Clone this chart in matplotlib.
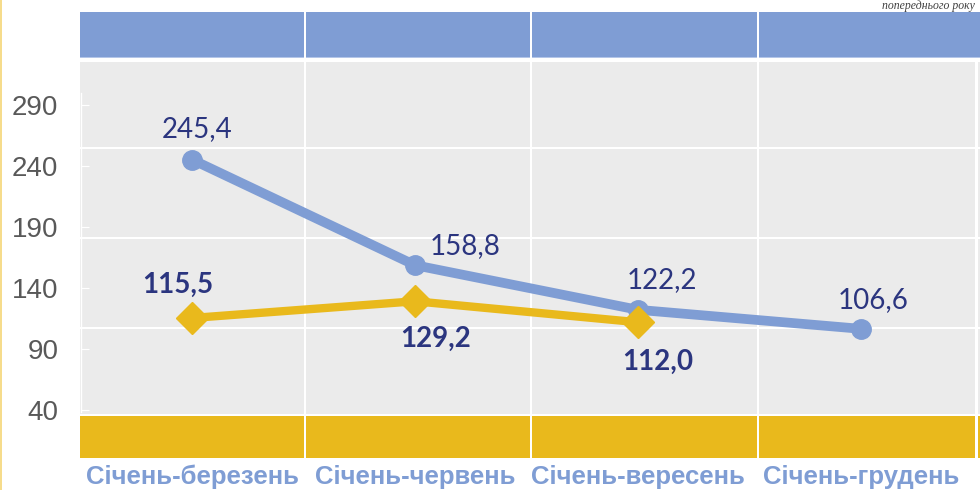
import matplotlib.pyplot as plt
from matplotlib.patches import Rectangle

# data
periods = ["Січень-березень", "Січень-червень", "Січень-вересень", "Січень-грудень"]
blue_vals = [245.4, 158.8, 122.2, 106.6]
yellow_vals = [115.5, 129.2, 112.0]
y_ticks = [40, 90, 140, 190, 240, 290]

BLUE = "#7F9DD4"
YELLOW = "#E9B91C"
GREY = "#EBEBEB"
NAVY = "#2B357F"

W, H = 980, 490
fig = plt.figure(figsize=(9.8, 4.9), dpi=100)
fig.patch.set_facecolor("white")


def rect(x0, y0, x1, y1, color):
    # pixel coords measured from top-left
    fig.patches.append(Rectangle((x0 / W, 1 - y1 / H), (x1 - x0) / W, (y1 - y0) / H,
                                 transform=fig.transFigure, color=color, lw=0, zorder=0))


# thin yellow line on the far left
rect(0, 0, 1.5, H, "#F6DC8C")

# table background: header band, grey body, yellow footer
rect(80, 12, 980, 57, BLUE)
rect(80, 57, 980, 58.5, "#B4C6E8")
rect(80, 62, 975, 414, GREY)
rect(977.5, 62, 980, 414, GREY)
rect(80, 416, 975, 458, YELLOW)
rect(977.5, 416, 980, 458, YELLOW)
for xs in [304, 530, 757]:
    rect(xs, 12, xs + 2, 458, "white")
for ys in [147, 237, 327]:
    rect(80, ys, 980, ys + 2, "white")

fig.text(975 / W, 1 - 0.5 / H, "попереднього року", ha="right", va="top",
         fontsize=8.5, style="italic", color="#404040", family="Liberation Serif")

# chart axes
ax = fig.add_axes([80.5 / W, (H - 412) / H, 892 / W, 319 / H])
ax.set_zorder(2)
ax.set_facecolor("none")
ax.set_xlim(-0.5, 3.5)
ax.set_ylim(38.4, 300)

xb = list(range(len(blue_vals)))
xy = list(range(len(yellow_vals)))
ax.plot(xb, blue_vals, color=BLUE, lw=7, marker="o", ms=14,
        solid_capstyle="round", zorder=3)
ax.plot(xy, yellow_vals, color=YELLOW, lw=6, marker="D", ms=16,
        solid_capstyle="round", zorder=4)

blue_off = [(5, 31), (50, 19), (24, 30), (12, 29)]
yellow_off = [(-14, 33), (21, -38), (20, -40)]
for x, v, (dx, dy) in zip(xb, blue_vals, blue_off):
    ax.annotate(f"{v:.1f}".replace(".", ","), (x, v), xytext=(dx * 0.72, dy * 0.72),
                textcoords="offset points", ha="center", va="center",
                fontsize=20, color=NAVY, family="Lato", zorder=5)
for x, v, (dx, dy) in zip(xy, yellow_vals, yellow_off):
    ax.annotate(f"{v:.1f}".replace(".", ","), (x, v), xytext=(dx * 0.72, dy * 0.72),
                textcoords="offset points", ha="center", va="center",
                fontsize=20, color=NAVY, family="Lato", fontweight="bold", zorder=5)

for s in ["top", "right", "bottom"]:
    ax.spines[s].set_visible(False)
ax.spines["left"].set_color("white")
ax.spines["left"].set_linewidth(1)

ax.set_yticks(y_ticks)
ax.tick_params(axis="y", direction="in", length=6, color="white", pad=16,
               labelsize=20, labelcolor="#595959")
for lab in ax.get_yticklabels():
    lab.set_family("Liberation Sans")

ax.set_xticks(range(len(periods)))
ax.set_xticklabels(periods)
ax.tick_params(axis="x", length=0, pad=38, labelsize=18.5, labelcolor=BLUE)
for lab in ax.get_xticklabels():
    lab.set_family("Liberation Sans")
    lab.set_fontweight("bold")

fig.savefig("out.png", dpi=100)
